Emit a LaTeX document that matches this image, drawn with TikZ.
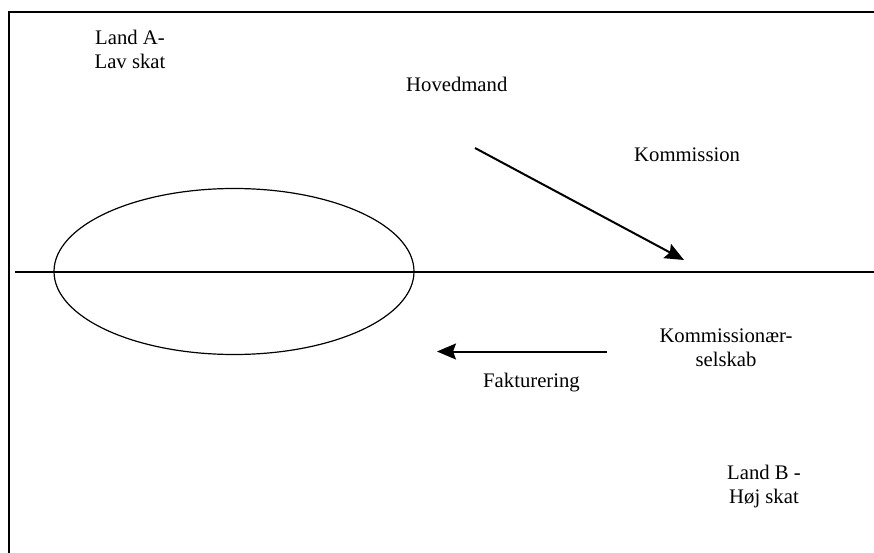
\documentclass[tikz,border=0pt]{standalone}
\usepackage{fontspec}
\setmainfont{Liberation Serif}
\usetikzlibrary{arrows.meta}
\begin{document}
\begin{tikzpicture}[x=1pt,y=-1pt,
  lbl/.style={inner sep=0pt,align=center,font=\fontsize{20.7}{24}\selectfont},
  rule/.style={line width=1.4pt},
  flow/.style={line width=2pt,-{Stealth[length=19pt,width=16pt,inset=3pt]}}]
  \useasboundingbox (0,0) rectangle (874,553);
  % open frame: top and left edges
  \draw[line width=2pt] (8.5,553) -- (8.5,12.5) -- (874,12.5);
  % border between the two countries
  \coordinate (bl) at (15,272);
  \coordinate (br) at (874,272);
  \draw[rule] (bl) -- (br);
  % company in country A
  \draw[line width=1.2pt] (234,271.5) ellipse [x radius=180, y radius=83];
  % labels (base anchor of a two-line node sits on its last line)
  \node[lbl,anchor=base] (landA) at (130,69) {Land A-\\Lav skat};
  \node[lbl,anchor=base west] (hoved) at (406,92) {Hovedmand};
  \node[lbl,anchor=base west] (komm) at (634,162) {Kommission};
  \node[lbl,anchor=base] (kselsk) at (726,366) {Kommissionær-\\selskab};
  \node[lbl,anchor=base west] (fakt) at (483,387) {Fakturering};
  \node[lbl,anchor=base] (landB) at (764,503) {Land B -\\Høj skat};
  % flows
  \coordinate (a1s) at (475,148);
  \coordinate (a1e) at (684,260);
  \draw[flow] (a1s) -- (a1e);
  \coordinate (a2s) at (607,351.5);
  \coordinate (a2e) at (437,351.5);
  \draw[flow] (a2s) -- (a2e);
\end{tikzpicture}
\end{document}
